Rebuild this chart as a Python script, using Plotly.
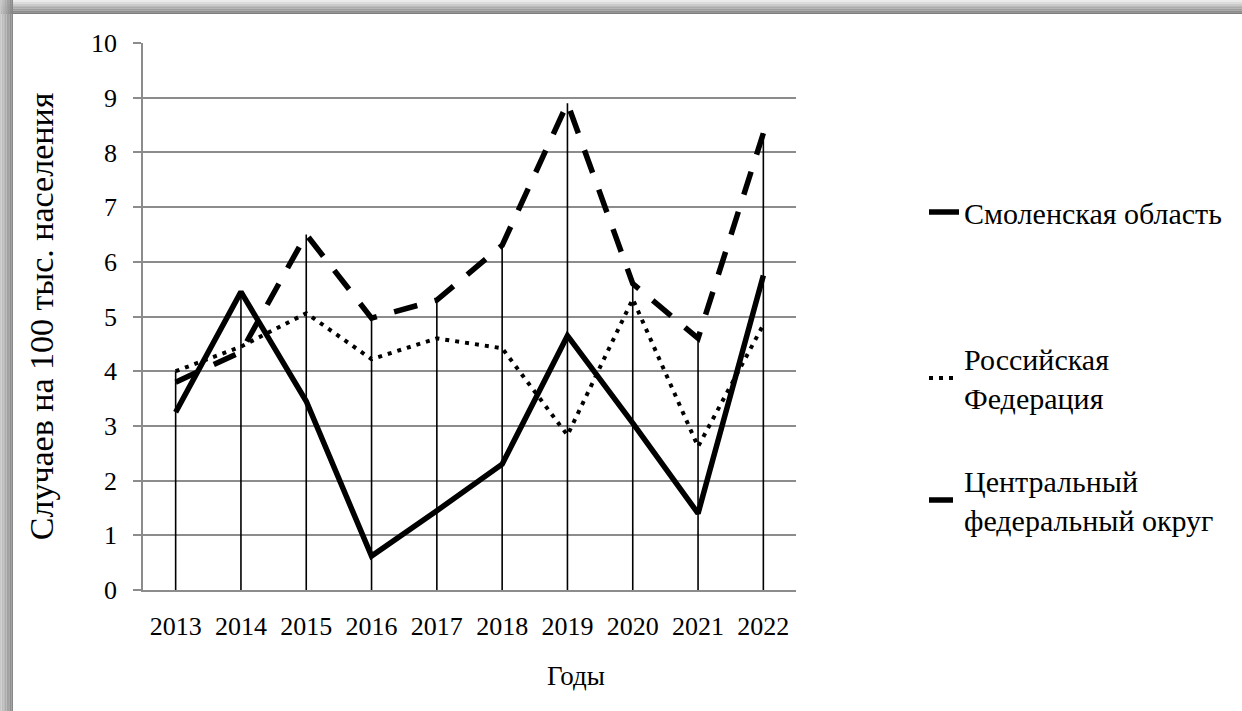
import plotly.graph_objects as go

years = ["2013", "2014", "2015", "2016", "2017", "2018", "2019", "2020", "2021", "2022"]
smolensk = [3.25, 5.45, 3.45, 0.62, 1.45, 2.3, 4.65, 3.05, 1.4, 5.75]
russia = [4.0, 4.45, 5.06, 4.22, 4.6, 4.42, 2.83, 5.32, 2.62, 4.85]
central = [3.8, 4.35, 6.5, 4.97, 5.3, 6.3, 8.9, 5.6, 4.6, 8.35]

name_smolensk = "Смоленская область"
name_russia = "Российская<br>Федерация"
name_central = "Центральный<br>федеральный округ"
x_title = "Годы"
y_title = "Случаев на 100 тыс. населения"

FONT = "Liberation Serif"
GRID = "#8c8c8c"

W, H = 1242, 711
L, R, T, B = 143, 446, 43, 121
PW, PH = W - L - R, H - T - B


def px(x):
    return (x - L) / PW


def py(y):
    return (H - B - y) / PH


fig = go.Figure()

# drop lines from each year's highest value to the axis
drop_x, drop_y = [], []
for i, yr in enumerate(years):
    top = max(smolensk[i], russia[i], central[i])
    drop_x += [yr, yr, None]
    drop_y += [0, top, None]
fig.add_trace(go.Scatter(x=drop_x, y=drop_y, mode="lines", showlegend=False,
                         line=dict(color="black", width=1.6), hoverinfo="skip"))

fig.add_trace(go.Scatter(x=years, y=smolensk, mode="lines", name=name_smolensk,
                         line=dict(color="black", width=5.5), legend="legend"))
fig.add_trace(go.Scatter(x=years, y=russia, mode="lines", name=name_russia,
                         line=dict(color="black", width=4, dash="4px,6px"), legend="legend2"))
fig.add_trace(go.Scatter(x=years, y=central, mode="lines", name=name_central,
                         line=dict(color="black", width=5.5, dash="24px,18px"), legend="legend3"))

# frame shading (top and left bands)
shapes = []
n = 8
top_band, left_band = 14, 13
for k in range(n):
    frac = k / (n - 1)
    g = int(235 - frac * (235 - 125))
    col = f"rgb({g},{g},{g})"
    y0 = top_band * k / n
    y1 = top_band * (k + 1) / n
    shapes.append(dict(type="rect", xref="paper", yref="paper", layer="below",
                       x0=px(0), x1=px(W), y0=py(y1), y1=py(y0),
                       fillcolor=col, line=dict(width=0)))
for k in range(n):
    frac = k / (n - 1)
    g = int(200 - frac * (200 - 135))
    col = f"rgb({g},{g},{g})"
    x0 = left_band * k / n
    x1 = left_band * (k + 1) / n
    shapes.append(dict(type="rect", xref="paper", yref="paper", layer="below",
                       x0=px(x0), x1=px(x1), y0=py(H), y1=py(0),
                       fillcolor=col, line=dict(width=0)))

legend_common = dict(font=dict(family=FONT, size=30, color="black"),
                     bgcolor="rgba(0,0,0,0)", xanchor="left", yanchor="middle",
                     x=px(924), itemclick=False)

fig.update_layout(
    width=W, height=H,
    margin=dict(l=L, r=R, t=T, b=B, autoexpand=False),
    paper_bgcolor="white", plot_bgcolor="white",
    font=dict(family=FONT, size=26, color="black"),
    shapes=shapes,
    legend=dict(**legend_common, y=py(212)),
    legend2=dict(**legend_common, y=py(378)),
    legend3=dict(**legend_common, y=py(500)),
    annotations=[dict(text=x_title, xref="paper", yref="paper", showarrow=False,
                      x=px(576), y=py(676), xanchor="center", yanchor="middle",
                      font=dict(family=FONT, size=27, color="black"))],
    xaxis=dict(type="category", categoryorder="array", categoryarray=years,
               range=[-0.5, 9.5], showgrid=False, showline=True, linecolor=GRID,
               linewidth=1.5, ticks="", tickfont=dict(size=26), ticklabelstandoff=12),
    yaxis=dict(range=[0, 10], dtick=1, showgrid=True, gridcolor=GRID, gridwidth=1.5,
               showline=True, linecolor=GRID, linewidth=1.5, ticks="outside",
               ticklen=8, tickcolor=GRID, tickwidth=1.5, zeroline=False,
               tickfont=dict(size=26), ticklabelstandoff=11,
               title=dict(text=y_title, font=dict(size=34), standoff=27)),
)

fig.write_html("out.html", config={"displayModeBar": False},
               post_script="document.body.style.margin='0';")
